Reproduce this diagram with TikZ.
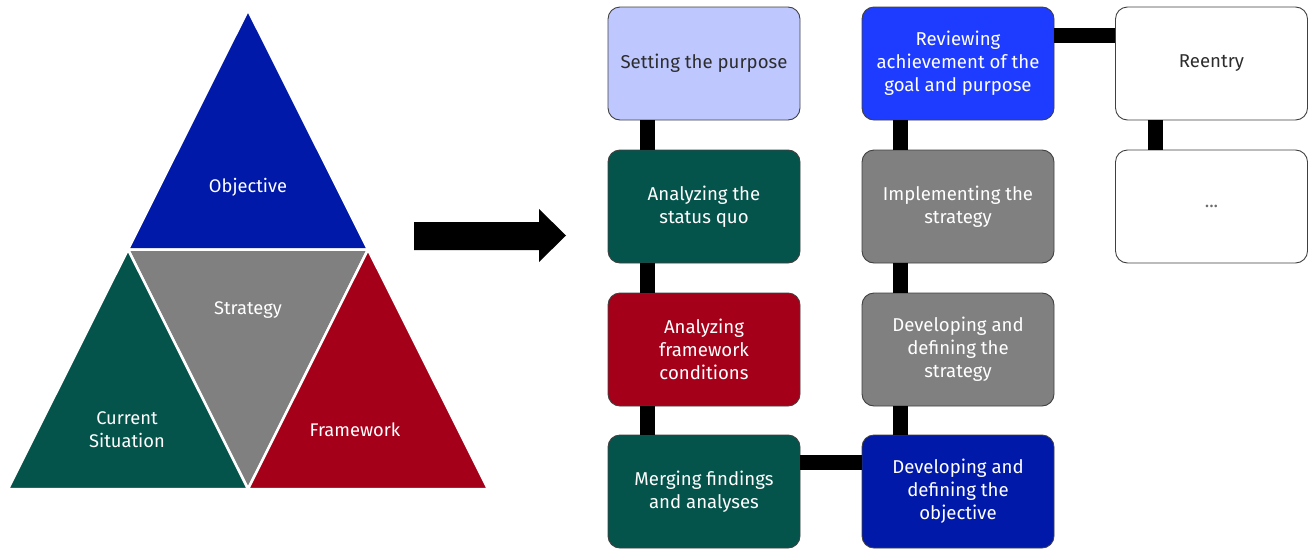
\documentclass[tikz,border=0pt]{standalone}
\usepackage{fontspec}
\setmainfont{Fira Sans}
\usetikzlibrary{calc}
\definecolor{objblue}{RGB}{0,25,168}
\definecolor{cgreen}{RGB}{5,84,76}
\definecolor{fred}{RGB}{165,0,25}
\definecolor{sgray}{RGB}{128,128,128}
\definecolor{lav}{RGB}{190,200,255}
\definecolor{rblue}{RGB}{30,60,255}
\definecolor{darktext}{RGB}{45,45,45}
\begin{document}
\begin{tikzpicture}[x=1pt,y=-1pt,
  box/.style={draw=black!75, line width=0.9pt, rounded corners=12pt,
    minimum width=192pt, minimum height=113pt, align=center,
    font=\fontsize{18.6}{23}\selectfont, text=white, inner sep=2pt},
  link/.style={line width=15pt, draw=black},
  tri/.style={draw=white, line width=2.5pt, line join=miter},
  tlabel/.style={text=white, align=center, font=\fontsize{18.3}{23}\selectfont},
  bigarrow/.style={fill=black}]
\useasboundingbox (0,0) rectangle (1309,549);

% triangle
\coordinate (A) at (248,10);
\coordinate (BL) at (8,489);
\coordinate (BR) at (488,489);
\coordinate (ML) at (128,249.5);
\coordinate (MR) at (368,249.5);
\coordinate (MB) at (248,489);
\filldraw[fill=objblue, tri] (A) -- (MR) -- (ML) -- cycle;
\filldraw[fill=sgray, tri] (ML) -- (MR) -- (MB) -- cycle;
\filldraw[fill=cgreen, tri] (ML) -- (MB) -- (BL) -- cycle;
\filldraw[fill=fred, tri] (MR) -- (BR) -- (MB) -- cycle;
\node[tlabel] (tobj) at (248,187) {Objective};
\node[tlabel] (tstr) at (248,310) {Strategy};
\node[tlabel] (tcur) at (127,430) {Current\\Situation};
\node[tlabel] (tfw) at (355,430) {Framework};

% big arrow
\fill[bigarrow] (414,222) -- (539,222) -- (539,209) -- (566,235.5) -- (539,262) -- (539,250) -- (414,250) -- cycle;

% boxes
\node[box, fill=lav, text=darktext] (p1) at (704,63.5) {Setting the purpose};
\node[box, fill=cgreen] (p2) at (704,206.5) {Analyzing the\\status quo};
\node[box, fill=fred] (p3) at (704,349.5) {Analyzing\\framework\\conditions};
\node[box, fill=cgreen] (p4) at (704,491.5) {Merging findings\\and analyses};
\node[box, fill=objblue] (p5) at (958,491.5) {Developing and\\defining the\\objective};
\node[box, fill=sgray] (p6) at (958,349.5) {Developing and\\defining the\\strategy};
\node[box, fill=sgray] (p7) at (958,206.5) {Implementing the\\strategy};
\node[box, fill=rblue] (p8) at (958,63.5) {Reviewing\\achievement of the\\goal and purpose};
\node[box, fill=white, text=darktext] (p9) at (1211.5,63.5) {Reentry};
\node[box, fill=white, text=darktext!70] (p10) at (1211.5,206.5) {...};

% connectors
\draw[link] ([xshift=-57pt]p1.south) -- ([xshift=-57pt]p2.north);
\draw[link] ([xshift=-57pt]p2.south) -- ([xshift=-57pt]p3.north);
\draw[link] ([xshift=-57pt]p3.south) -- ([xshift=-57pt]p4.north);
\draw[link] ([yshift=29pt]p4.east) -- ([yshift=29pt]p5.west);
\draw[link] ([xshift=-58pt]p5.north) -- ([xshift=-58pt]p6.south);
\draw[link] ([xshift=-58pt]p6.north) -- ([xshift=-58pt]p7.south);
\draw[link] ([xshift=-58pt]p7.north) -- ([xshift=-58pt]p8.south);
\draw[link] ([yshift=28.5pt]p8.east) -- ([yshift=28.5pt]p9.west);
\draw[link] ([xshift=-56.5pt]p9.south) -- ([xshift=-56.5pt]p10.north);
\end{tikzpicture}
\end{document}
